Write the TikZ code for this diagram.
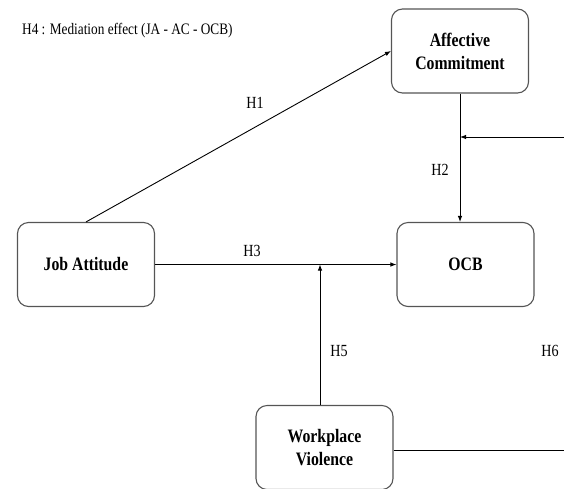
\documentclass[tikz,border=0pt]{standalone}
\usepackage{fontspec}
\setmainfont{Liberation Serif}[FakeStretch=0.83]
\usetikzlibrary{positioning,calc,arrows.meta}
\definecolor{BoxEdge}{RGB}{85,85,85}

\begin{document}
\begin{tikzpicture}[
    x=1pt,
    y=-1pt,
    >={Latex[length=6pt,width=4.5pt]},
    box/.style={
        draw=BoxEdge,
        line width=1.1pt,
        rounded corners=11pt,
        align=center,
        minimum width=137pt,
        minimum height=84pt,
        inner sep=0pt,
        font=\fontsize{19}{23}\selectfont\bfseries
    },
    link/.style={
        ->,
        line width=0.9pt
    },
    plain/.style={
        -,
        line width=0.9pt
    },
    hlabel/.style={
        inner sep=0pt,
        font=\fontsize{17}{20}\selectfont
    }
]
\useasboundingbox (0,0) rectangle (564,488);

% =========================
% Constructs
% =========================
\node[box] (ac)  at (460,51)      {Affective\\Commitment};
\node[box] (ocb) at (465.5,264.5) {OCB};
\node[box] (ja)  at (86,264.5)    {Job Attitude};
\node[box] (wv)  at (324.5,447.5) {Workplace\\Violence};

% free ends at the right edge
\coordinate (h6top) at (564,137);
\coordinate (h6low) at (564,450);

% =========================
% Paths
% =========================
\draw[link] (ja.north) -- (ac.west);
\draw[link] (ac.south) -- (ac.south |- ocb.north);
\draw[link] (h6top) -- (h6top -| ac.south);
\draw[link] (ja.east) -- (ocb.west);
\draw[link] ([xshift=-4.5pt]wv.north) -- ([xshift=-4.5pt]wv.north |- ja.east);
\draw[plain] (wv.east |- h6low) -- (h6low);

% =========================
% Hypothesis labels
% =========================
\node[hlabel, anchor=west, font=\fontsize{16}{19}\selectfont] (h4) at (22,31) {H4 : Mediation effect (JA - AC - OCB)};
\node[hlabel] (h1) at (255,103) {H1};
\node[hlabel] (h2) at (440,170) {H2};
\node[hlabel] (h3) at (252,251) {H3};
\node[hlabel] (h5) at (339,351) {H5};
\node[hlabel] (h6) at (550,351) {H6};

\end{tikzpicture}
\end{document}
